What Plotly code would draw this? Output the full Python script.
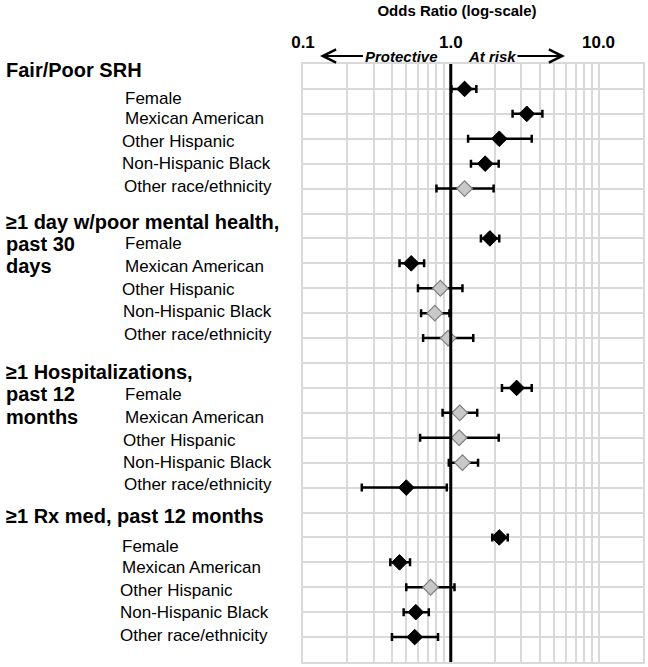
import numpy as np
import plotly.graph_objects as go

# ---------------- data ----------------
outcome_lines = [
    ["Fair/Poor SRH"],
    ["≥1 day w/poor mental health,", "past 30", "days"],
    ["≥1 Hospitalizations,", "past 12", "months"],
    ["≥1 Rx med, past 12 months"],
]
groups = ["Female", "Mexican American", "Other Hispanic", "Non-Hispanic Black", "Other race/ethnicity"]

or_srh = [1.24, 3.27, 2.13, 1.71, 1.24]
lo_srh = [1.01, 2.62, 1.31, 1.37, 0.80]
hi_srh = [1.49, 4.17, 3.53, 2.11, 1.95]
sig_srh = [True, True, True, True, False]

or_mental = [1.84, 0.54, 0.85, 0.78, 0.96]
lo_mental = [1.60, 0.45, 0.60, 0.63, 0.65]
hi_mental = [2.13, 0.66, 1.20, 0.98, 1.42]
sig_mental = [True, True, False, False, False]

or_hosp = [2.79, 1.15, 1.14, 1.20, 0.50]
lo_hosp = [2.22, 0.88, 0.62, 0.97, 0.25]
hi_hosp = [3.53, 1.51, 2.11, 1.53, 0.94]
sig_hosp = [True, False, False, False, True]

or_rx = [2.13, 0.45, 0.73, 0.58, 0.57]
lo_rx = [1.91, 0.39, 0.50, 0.48, 0.40]
hi_rx = [2.43, 0.53, 1.06, 0.71, 0.82]
sig_rx = [True, True, False, True, True]

tick_labels = {0.1: "0.1", 1.0: "1.0", 10.0: "10.0"}
axis_title = "Odds Ratio (log-scale)"
left_word = "Protective"
right_word = "At risk"

# ---------------- layout helpers (pixels) ----------------
W, H = 648, 667
L, R, T, B = 303, 5, 64, 3
PW, PH = W - L - R, H - T - B


def px(xp):
    return (xp - L) / PW


def py(yp):
    return (H - B - yp) / PH


FONT = "Arial, Liberation Sans, sans-serif"

all_or = [or_srh, or_mental, or_hosp, or_rx]
all_lo = [lo_srh, lo_mental, lo_hosp, lo_rx]
all_hi = [hi_srh, hi_mental, hi_hosp, hi_rx]
all_sig = [sig_srh, sig_mental, sig_hosp, sig_rx]

n_rows = 6 * len(all_or)

xs = {True: [], False: []}
ys = {True: [], False: []}
ep = {True: [], False: []}
em = {True: [], False: []}
for i in range(len(all_or)):
    for j in range(len(groups)):
        s = all_sig[i][j]
        o = all_or[i][j]
        xs[s].append(o)
        ys[s].append(n_rows - (6 * i + 1 + j))
        ep[s].append(all_hi[i][j] - o)
        em[s].append(o - all_lo[i][j])

fig = go.Figure()
styles = {
    True: dict(color="black", line=dict(color="black", width=1)),
    False: dict(color="#c8c8c8", line=dict(color="#7f7f7f", width=1.2)),
}
for s in (False, True):
    fig.add_trace(go.Scatter(
        x=xs[s], y=ys[s], mode="markers",
        marker=dict(symbol="diamond", size=12, **styles[s]),
        error_x=dict(type="data", symmetric=False, array=ep[s], arrayminus=em[s],
                     color="black", thickness=2.5, width=4),
        showlegend=False, hoverinfo="x",
    ))

# reference line at OR = 1
fig.add_trace(go.Scatter(x=[1, 1], y=[0, n_rows], mode="lines",
                         line=dict(color="black", width=3),
                         showlegend=False, hoverinfo="skip"))

grid_vals = [m * 10.0 ** e for e in (-1, 0) for m in range(1, 10)] + [10.0, 20.0]
grid_text = [tick_labels.get(round(v, 6), "") for v in grid_vals]

GRID = "#d9d9d9"
fig.update_xaxes(
    type="log", range=[-1, np.log10(20)], side="top",
    tickmode="array", tickvals=grid_vals, ticktext=grid_text,
    tickfont=dict(family=FONT, size=17, color="black", weight="bold"),
    ticks="", ticklabelstandoff=7,
    showgrid=True, gridcolor=GRID, gridwidth=1.5,
    showline=True, linecolor=GRID, linewidth=1.5, mirror=True,
    zeroline=False,
)
fig.update_yaxes(
    range=[0, n_rows], tick0=0, dtick=1, showticklabels=False, ticks="",
    showgrid=True, gridcolor=GRID, gridwidth=1.5,
    showline=True, linecolor=GRID, linewidth=1.5, mirror=True,
    zeroline=False,
)

annotations = []

# outcome headers (left, bold)
header_pos = [[(4, 70)], [(4, 223), (4, 245), (4, 267)], [(4, 373), (4, 395), (4, 418)], [(4, 518)]]
for lines, poss in zip(outcome_lines, header_pos):
    for text, (x0, y0) in zip(lines, poss):
        annotations.append(dict(
            text=text, xref="paper", yref="paper", x=px(x0), y=py(y0),
            xanchor="left", yanchor="middle", showarrow=False,
            font=dict(family=FONT, size=20, color="black", weight="bold"),
        ))

# sub-group labels
sub_y = [[99, 119, 142, 164, 187], [244, 267, 290, 312, 335],
         [396, 419, 442, 464, 486], [548, 569, 592, 614, 637]]
sub_x = [[123, 123, 120, 120, 122], [123, 123, 120, 121, 122],
         [123, 123, 121, 121, 122], [120, 120, 118, 118, 118]]
for i in range(len(outcome_lines)):
    for j, g in enumerate(groups):
        annotations.append(dict(
            text=g, xref="paper", yref="paper", x=px(sub_x[i][j]), y=py(sub_y[i][j]),
            xanchor="left", yanchor="middle", showarrow=False,
            font=dict(family=FONT, size=17, color="black"),
        ))

# direction arrows
arrow_font = dict(family=FONT, size=15, color="black", weight="bold", style="italic")
annotations.append(dict(
    text=left_word, xref="paper", yref="paper", x=px(320), y=py(56),
    ax=81, ay=0, axref="pixel", ayref="pixel",
    showarrow=True, arrowhead=5, arrowsize=1.3, arrowwidth=2, arrowcolor="black",
    font=arrow_font,
))
annotations.append(dict(
    text=right_word, xref="paper", yref="paper", x=px(565), y=py(56),
    ax=-73, ay=0, axref="pixel", ayref="pixel",
    showarrow=True, arrowhead=5, arrowsize=1.3, arrowwidth=2, arrowcolor="black",
    font=arrow_font,
))

fig.update_layout(
    width=W, height=H,
    margin=dict(l=L, r=R, t=T, b=B, pad=0),
    plot_bgcolor="white", paper_bgcolor="white",
    title=dict(text=axis_title, xref="container", yref="container",
               x=457 / W, y=1 - 11 / H, xanchor="center", yanchor="middle",
               font=dict(family=FONT, size=15, color="black", weight="bold")),
    annotations=annotations,
    showlegend=False,
)

fig.write_html("out.html",
               config={"displayModeBar": False},
               post_script="document.body.style.margin='0px';document.body.style.overflow='hidden';")
